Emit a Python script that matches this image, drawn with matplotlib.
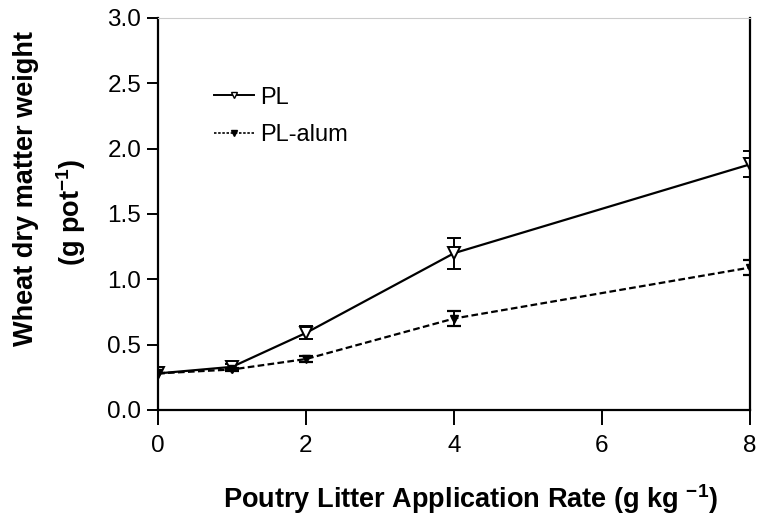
import matplotlib
matplotlib.use("Agg")
import matplotlib.pyplot as plt
from matplotlib.lines import Line2D

plt.rcParams['font.family'] = ['Liberation Sans', 'DejaVu Sans']
plt.rcParams['mathtext.fontset'] = 'custom'
plt.rcParams['mathtext.rm'] = 'Liberation Sans'
plt.rcParams['mathtext.bf'] = 'Liberation Sans:bold'

rates = [0, 1, 2, 4, 8]
pl = [0.28, 0.33, 0.59, 1.20, 1.88]
pl_err = [0.0, 0.02, 0.05, 0.12, 0.10]
alum = [0.28, 0.31, 0.39, 0.70, 1.09]
alum_err = [0.0, 0.01, 0.02, 0.06, 0.06]
xticks = [0, 2, 4, 6, 8]
yticks = [0.0, 0.5, 1.0, 1.5, 2.0, 2.5, 3.0]

W, H = 757, 523
fig = plt.figure(figsize=(W/100, H/100), dpi=100)
ax = fig.add_axes([158/W, (H-410)/H, 592/W, 392/H])

dash = (0, (3, 1.5))
ax.errorbar(rates, pl, yerr=pl_err, color='black', lw=1.6, marker='v',
            mfc='white', mec='black', ms=9, mew=1.4, capsize=5, capthick=1.6,
            elinewidth=1.4)
ax.errorbar(rates, alum, yerr=alum_err, color='black', lw=1.6, ls=dash,
            marker='v', mfc='black', mec='black', ms=6, capsize=5, capthick=1.6,
            elinewidth=1.4)

ax.set_xlim(0, 8)
ax.set_ylim(0, 3.0)
ax.set_xticks(xticks)
ax.set_yticks(yticks)
ax.set_yticklabels([f"{v:.1f}" for v in yticks])
ax.tick_params(axis='y', direction='out', length=8, width=1.4, labelsize=17.5, pad=4)
ax.tick_params(axis='x', direction='out', length=11, width=1.4, labelsize=17.5, pad=7)
for s in ['left', 'bottom', 'right']:
    ax.spines[s].set_linewidth(1.6)
ax.spines['top'].set_linewidth(0.8)
ax.spines['top'].set_color('#cccccc')

fig.text(470/W, (H-499)/H, 'Poutry Litter Application Rate (g kg $^{\\mathbf{-1}}$)',
         fontsize=19.5, fontweight='bold', ha='center', va='center')
fig.text(26/W, (H-188)/H, 'Wheat dry matter weight', rotation=90,
         fontsize=19.5, fontweight='bold', ha='center', va='center')
fig.text(71/W, (H-212)/H, '(g pot$^{\\mathbf{-1}}$)', rotation=90,
         fontsize=19.5, fontweight='bold', ha='center', va='center')

handles = [
    Line2D([], [], color='black', lw=1.4, marker='v', mfc='white', mec='black', ms=5),
    Line2D([], [], color='black', lw=1.2, ls=(0, (1.5, 1)), marker='v', mfc='black', mec='black', ms=4),
]
ax.legend(handles, ['PL', 'PL-alum'], loc='upper left', bbox_to_anchor=(0.074, 0.855),
          frameon=False, fontsize=17, handlelength=1.7, handletextpad=0.25,
          labelspacing=0.65, borderpad=0)

fig.savefig('out.png', dpi=100)
